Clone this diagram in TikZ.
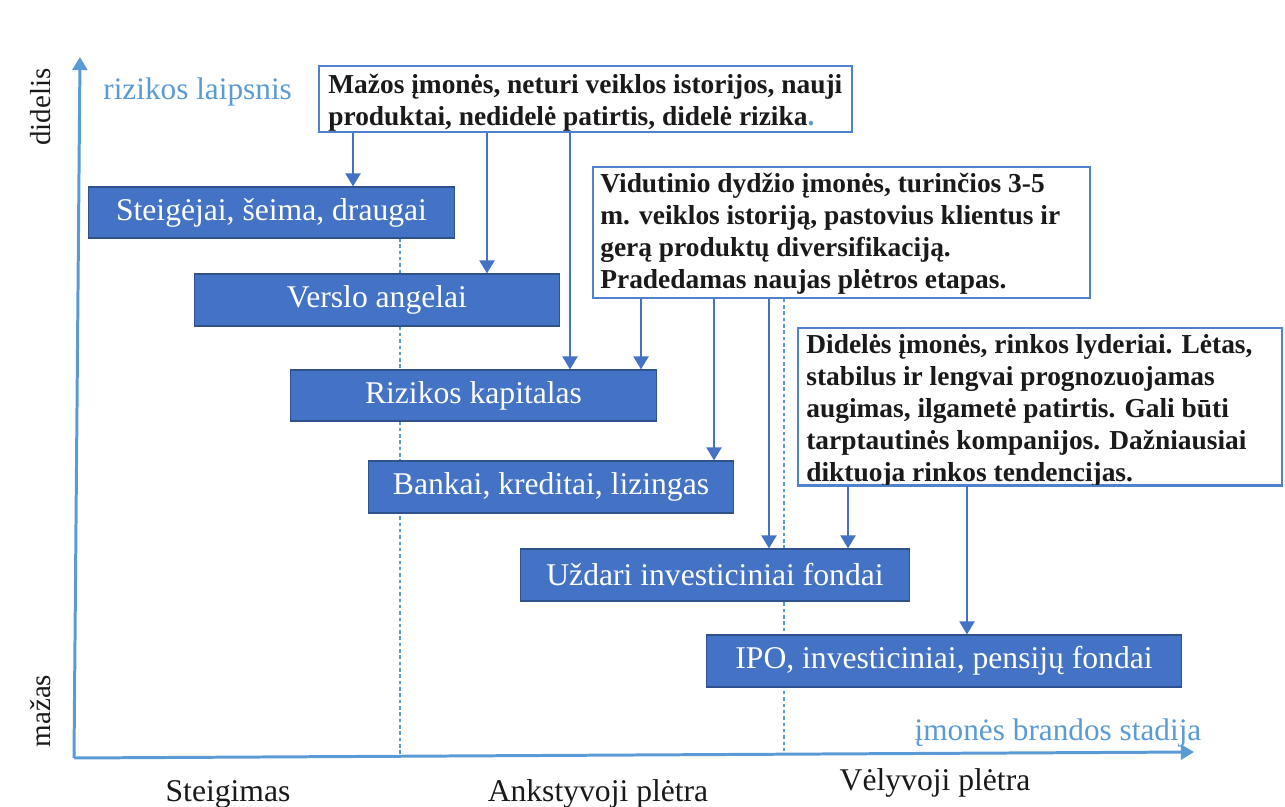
\documentclass[tikz,border=0pt]{standalone}
\usepackage{fontspec}
\setmainfont{Liberation Serif}
\usetikzlibrary{arrows.meta,calc}
\definecolor{axisblue}{HTML}{5B9BD5}
\definecolor{boxblue}{HTML}{4472C4}
\definecolor{boxedge}{HTML}{2F528F}
\definecolor{arrowblue}{HTML}{4472C4}
\definecolor{noteedge}{HTML}{4F81CD}
\definecolor{inkblack}{HTML}{1A1A1A}
\begin{document}
\begin{tikzpicture}[x=0.02cm,y=-0.02cm,
  fundbox/.style={draw=boxedge,line width=0.6pt,fill=boxblue,text=white,
    font=\fontsize{18}{21}\selectfont,inner sep=0pt},
  notebox/.style={draw=noteedge,line width=0.9pt,fill=white,inner sep=0pt},
  notetext/.style={anchor=north west,align=left,text=inkblack,
    font=\bfseries\fontsize{15.6}{18.2}\selectfont,inner sep=0pt},
  feed/.style={draw=arrowblue,line width=1.6pt,-{Triangle[length=7.5pt,width=8.5pt]}},
  axisline/.style={draw=axisblue,line width=1.7pt,-{Triangle[length=7.5pt,width=8.5pt]}},
  stagediv/.style={draw=axisblue,line width=0.6pt,dash pattern=on 2pt off 1.6pt},
  axislabel/.style={text=axisblue,font=\fontsize{17.8}{20}\selectfont,inner sep=0pt},
  stagelabel/.style={text=inkblack,font=\fontsize{18}{21}\selectfont,inner sep=0pt},
  levellabel/.style={text=inkblack,font=\fontsize{16.5}{19}\selectfont,inner sep=0pt,rotate=90,anchor=base}
]
\useasboundingbox (0,0) rectangle (1285,807);

% axes
\coordinate (O) at (74,758);
\coordinate (ytip) at (80,57);
\coordinate (xtip) at (1194,752);
\draw[axisline] (O) -- (ytip);
\draw[axisline] (O) -- (xtip);

% axis labels
\node[axislabel,anchor=base west] (ylab) at (103,100) {rizikos laipsnis};
\node[axislabel,anchor=base] (xlab) at (1058,740) {įmonės brandos stadija};
\node[levellabel] (hi) at (51,107) {didelis};
\node[levellabel] (lo) at (51,711) {mažas};

% stage labels
\node[stagelabel,anchor=base] (st1) at (228,801) {Steigimas};
\node[stagelabel,anchor=base] (st2) at (598,801) {Ankstyvoji plėtra};
\node[stagelabel,anchor=base] (st3) at (935,790) {Vėlyvoji plėtra};

% stage dividers (behind boxes)
\coordinate (d1top) at (400,238);
\coordinate (d1bot) at (400,757);
\draw[stagediv] (d1top) -- (d1bot);

% note boxes
\node[notebox,minimum width=10.66cm,minimum height=1.32cm] (A) at (585.5,99) {};
\node[notetext] (At) at (328,74) {Mažos įmonės, neturi veiklos istorijos, nauji\\produktai, nedidelė patirtis, didelė rizika{\color{axisblue}.}};

\node[notebox,minimum width=9.94cm,minimum height=2.62cm] (B) at (841.5,232.5) {};
\node[notetext] (Bt) at (600,173) {Vidutinio dydžio įmonės, turinčios 3-5\\m. veiklos istoriją, pastovius klientus ir\\gerą produktų diversifikaciją.\\Pradedamas naujas plėtros etapas.};

\coordinate (d2x) at (784,0);
\coordinate (d2bot) at (784,753);
\draw[stagediv] (B.south -| d2x) -- (d2bot);

\node[notebox,minimum width=9.68cm,minimum height=3.14cm] (C) at (1040,406.5) {};
\begin{scope}
  \clip (C.north west) rectangle (C.south east);
  \node[notetext] (Ct) at (806,334) {Didelės įmonės, rinkos lyderiai. Lėtas,\\stabilus ir lengvai prognozuojamas\\augimas, ilgametė patirtis. Gali būti\\tarptautinės kompanijos. Dažniausiai\\diktuoja rinkos tendencijas.};
\end{scope}
\draw[noteedge,line width=0.9pt] (C.south west) -- (C.south east);

% funding boxes
\node[fundbox,minimum width=7.34cm,minimum height=1.02cm] (s1) at (271.5,212.5) {Steigėjai, šeima, draugai};
\node[fundbox,minimum width=7.32cm,minimum height=1.04cm] (s2) at (377,300) {Verslo angelai};
\node[fundbox,minimum width=7.34cm,minimum height=1.02cm] (s3) at (473.5,395.5) {Rizikos kapitalas};
\node[fundbox,minimum width=7.32cm,minimum height=1.04cm] (s4) at (551,487) {Bankai, kreditai, lizingas};
\node[fundbox,minimum width=7.8cm,minimum height=1.04cm] (s5) at (715,575) {Uždari investiciniai fondai};
\node[fundbox,minimum width=9.52cm,minimum height=1.04cm] (s6) at (944,661) {IPO, investiciniai, pensijų fondai};

% connector columns
\coordinate (a1) at (353,0);
\coordinate (a2) at (487,0);
\coordinate (a3) at (570,0);
\coordinate (b1) at (641,0);
\coordinate (b2) at (714,0);
\coordinate (b3) at (769,0);
\coordinate (c1) at (848,0);
\coordinate (c2) at (967,0);

\draw[feed] (A.south -| a1) -- (s1.north -| a1);
\draw[feed] (A.south -| a2) -- (s2.north -| a2);
\draw[feed] (A.south -| a3) -- (s3.north -| a3);
\draw[feed] (B.south -| b1) -- (s3.north -| b1);
\draw[feed] (B.south -| b2) -- (s4.north -| b2);
\draw[feed] (B.south -| b3) -- (s5.north -| b3);
\draw[feed] (C.south -| c1) -- (s5.north -| c1);
\draw[feed] (C.south -| c2) -- (s6.north -| c2);
\end{tikzpicture}
\end{document}
